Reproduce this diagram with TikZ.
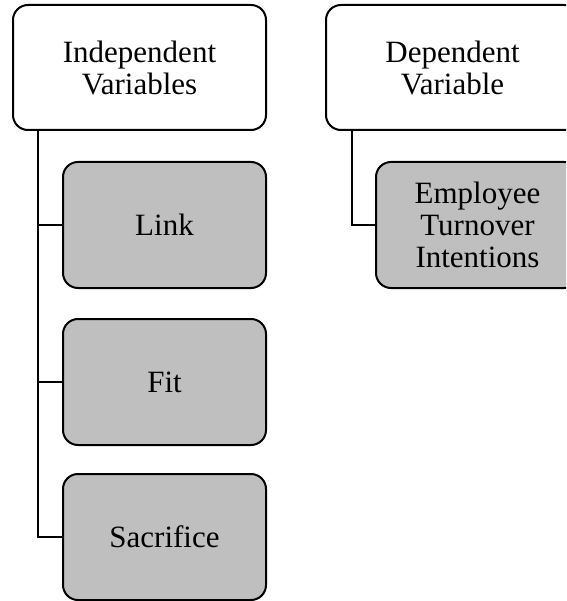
\documentclass[tikz,border=0pt]{standalone}
\usepackage{fontspec}
\setmainfont{Liberation Serif}
\begin{document}
\begin{tikzpicture}[x=1pt,y=-1pt,
  box/.style={draw=black, line width=2pt, rounded corners=15pt, rectangle,
    minimum width=253pt, minimum height=125pt, inner sep=0pt, align=center,
    font=\fontsize{31}{32}\selectfont, fill=white},
  subbox/.style={box, minimum width=203pt, minimum height=126pt, fill=lightgray!100!white},
  conn/.style={draw=black, line width=2pt}]
\useasboundingbox (0,0) rectangle (566,601);
\clip (0,0) rectangle (566,601);
\node[box] (ind) at (139.5,67.5) {Independent\\Variables};
\node[box] (dep) at (452.5,67.5) {Dependent\\Variable};
\node[subbox] (link) at (164.5,225) {Link};
\node[subbox] (fit) at (164.5,382) {Fit};
\node[subbox] (sac) at (164.5,537) {Sacrifice};
\node[subbox] (emp) at (477.5,225) {Employee\\Turnover\\Intentions};
\coordinate (trunk) at (38,130);
\coordinate (dtrunk) at (352,130);
\draw[conn] (trunk) |- (sac.west);
\draw[conn] (trunk |- link.west) -- (link.west);
\draw[conn] (trunk |- fit.west) -- (fit.west);
\draw[conn] (dtrunk) |- (emp.west);
\end{tikzpicture}
\end{document}
